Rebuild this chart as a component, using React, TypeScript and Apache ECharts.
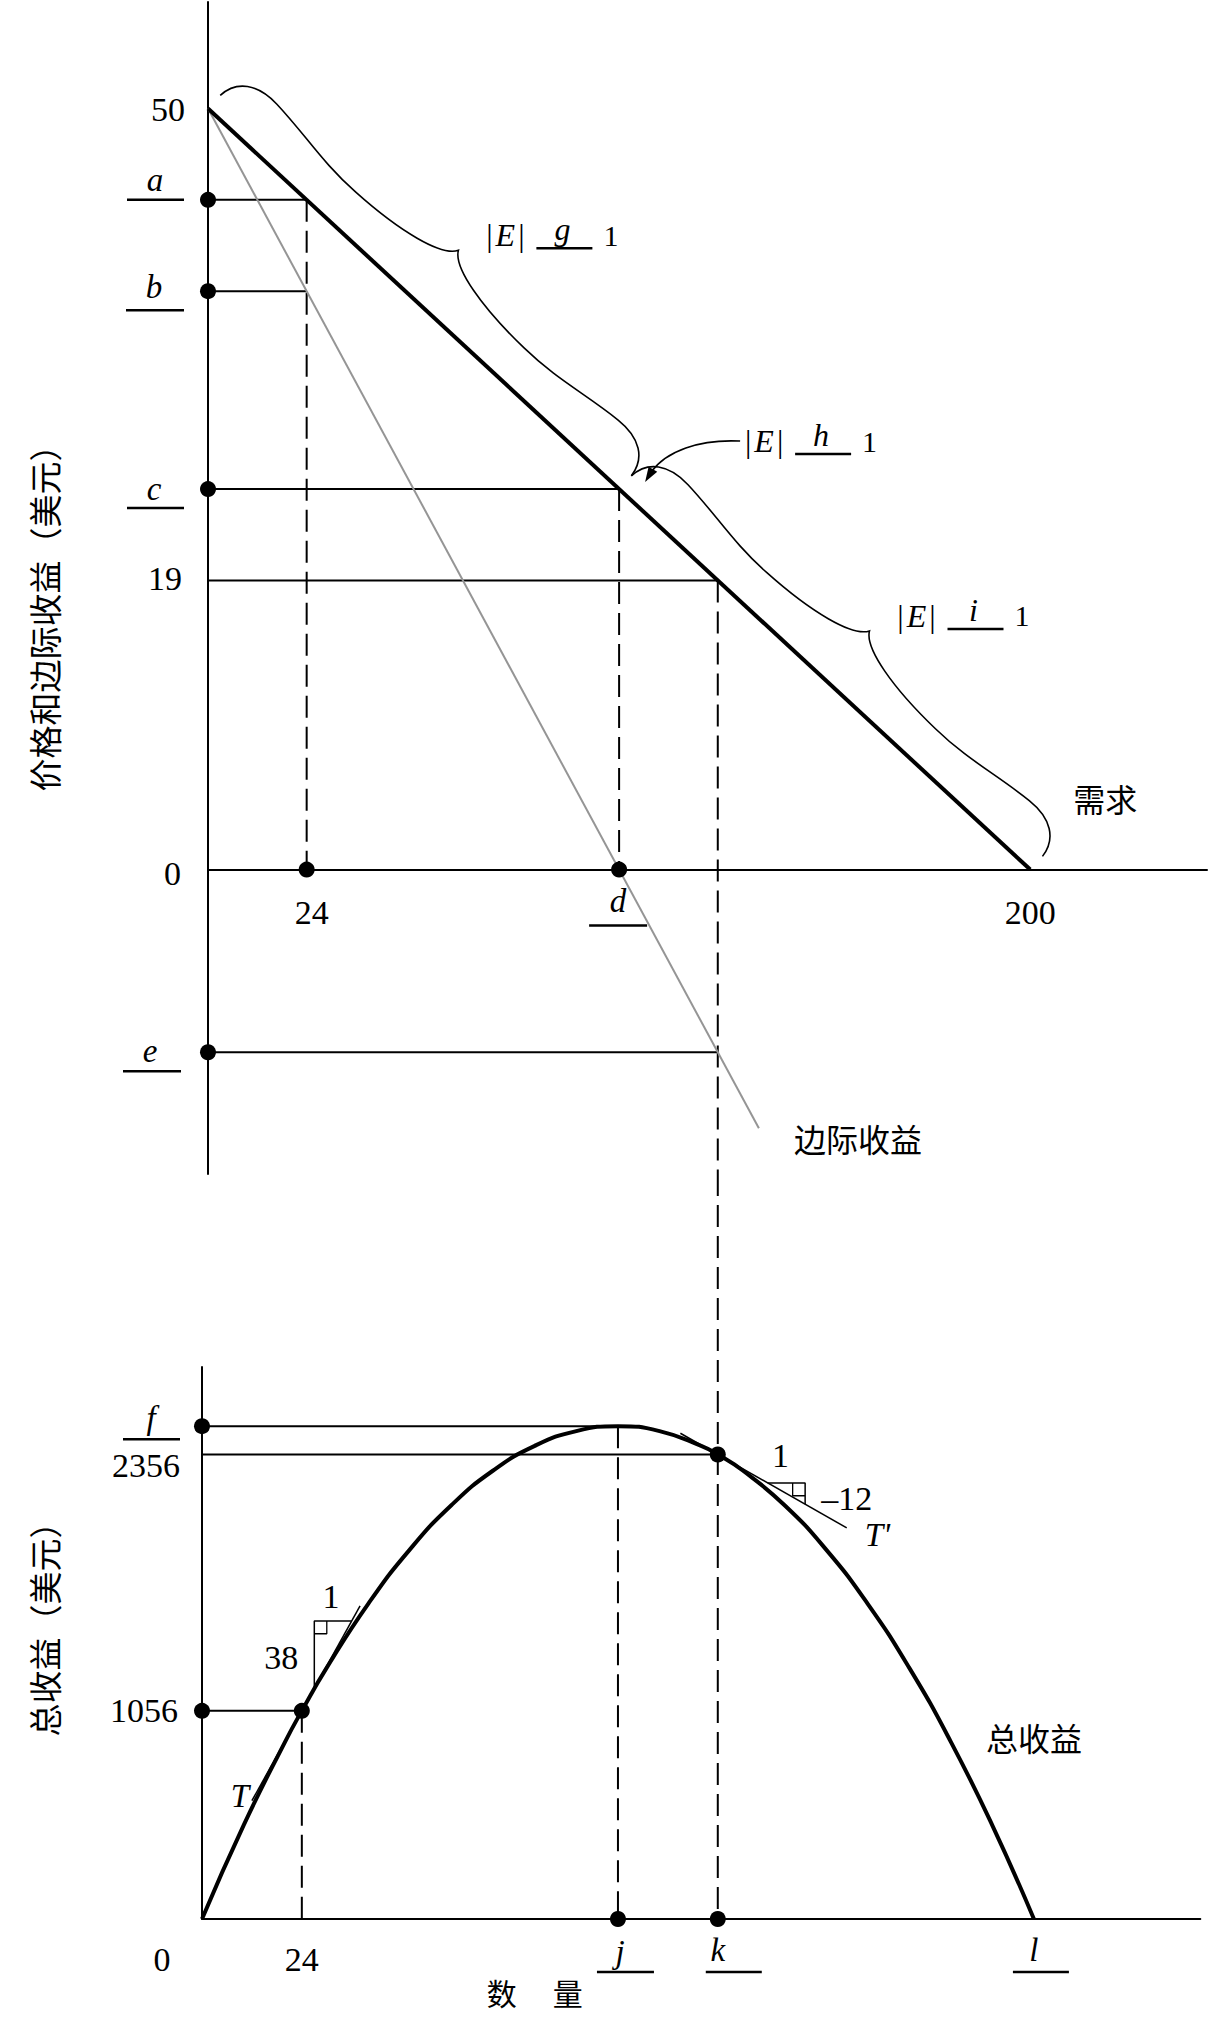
import React, { useEffect, useRef } from 'react';
import * as echarts from 'echarts';

// ================= DATA =================
// Top panel: price & marginal revenue (dollars) against quantity
const DEMAND: number[][] = [[0, 50], [200, 0]];
const MARGINAL_REVENUE: number[][] = [[0, 50], [134, -17]];
// horizontal guides: [fromQ, price, toQ]
const PRICE_GUIDES: number[][] = [[0, 44, 24], [0, 38, 24], [0, 25, 100], [0, 19, 124], [0, -12, 124]];
// dashed drops: [q, fromPrice, toPrice]
const PRICE_DROPS: number[][] = [[24, 44, 0], [100, 25, 0], [124, 19, -20]];
const PRICE_DOTS: number[][] = [[0, 44], [0, 38], [0, 25], [0, -12], [24, 0], [100, 0]];
// braces along the demand curve: [q1, p1, q2, p2]
const BRACES: number[][] = [[0, 50, 100, 25], [100, 25, 200, 0]];
const BRACE_BLANKS = ['g', 'i'];
const ARROW_AT: number[][] = [[100, 25]];
const ARROW_BLANK = ['h'];
const TOP_LABEL_TEXT = ['50', 'a', 'b', 'c', '19', '0', 'e', '24', 'd', '200', '需求', '边际收益'];
const TOP_LABEL_AT: number[][] = [[0, 50], [0, 44], [0, 38], [0, 25], [0, 19], [0, 0], [0, -12], [24, 0], [100, 0], [200, 0], [200, 0], [134, -17]];

// Bottom panel: total revenue (dollars) against quantity
const TOTAL_REVENUE: number[][] = [
  [0, 0], [10, 475], [20, 900], [24, 1056], [30, 1275], [40, 1600], [50, 1875], [60, 2100], [70, 2275],
  [80, 2400], [90, 2475], [100, 2500], [110, 2475], [120, 2400], [124, 2356], [130, 2275], [140, 2100],
  [150, 1875], [160, 1600], [170, 1275], [180, 900], [190, 475], [200, 0],
];
const TR_GUIDES: number[][] = [[0, 2500, 100], [0, 2356, 124], [0, 1056, 24]];
const TR_DROPS: number[][] = [[24, 1056, 0], [100, 2500, 0]];
const LINK_Q = 124; // dashed line joining both panels
const TR_DOTS: number[][] = [[0, 2500], [0, 1056], [24, 1056], [124, 2356], [100, 0], [124, 0]];
const TANGENT_T: number[][] = [[12, 600], [38, 1588]];
const TANGENT_T2: number[][] = [[115, 2464], [155, 1984]];
const SLOPE_T: number[][] = [[27, 1170], [27, 1512], [36, 1512]];
const SLOPE_T2: number[][] = [[136, 2212], [145, 2212], [145, 2104]];
const BOT_LABEL_TEXT = ['f', '2356', '1056', '0', '24', 'j', 'k', 'l', '数\u3000\u2009量', '总收益', '38', '1', 'T', '1', '–12', "T'"];
const BOT_LABEL_AT: number[][] = [[0, 2500], [0, 2356], [0, 1056], [0, 0], [24, 0], [100, 0], [124, 0], [200, 0], [80, 0], [175, 1094], [27, 1341], [31.5, 1512], [12, 600], [140.5, 2212], [145, 2158], [155, 1984]];

// ================= LAYOUT / STYLE =================
const SERIF = '"Liberation Serif", "Times New Roman", serif';
const CJK = '"Noto Sans CJK SC", sans-serif';
const BLACK = '#000';

const TOP_GRID = { left: 208, top: 2, width: 999, height: 1172 };
const TOP_X = { min: 0, max: 243 };
const TOP_Y = { min: -20, max: 57 };
const BOT_GRID = { left: 202, top: 1367, width: 998.3, height: 552 };
const BOT_X = { min: 0, max: 240 };
const BOT_Y = { min: 0, max: 2800 };

const SQ_Q = 3;
const SQ_TR = 65;

type Lay = { k: string; dx: number; dy: number; align?: string; u1?: number; u2?: number; uy?: number; size?: number };
const TOP_LABEL_LAYOUT: Lay[] = [
  { k: 'num', align: 'right', dx: -23, dy: 1 },
  { k: 'ul', dx: -53, dy: -20, u1: -81, u2: -24, uy: 0 },
  { k: 'ul', dx: -54, dy: -4, u1: -82, u2: -24, uy: 19 },
  { k: 'ul', dx: -54, dy: 0, u1: -81, u2: -24, uy: 19 },
  { k: 'num', align: 'right', dx: -26, dy: -2 },
  { k: 'num', align: 'right', dx: -27, dy: 4 },
  { k: 'ul', dx: -58, dy: -1, u1: -85, u2: -27, uy: 19 },
  { k: 'num', align: 'center', dx: 5, dy: 43 },
  { k: 'ul', dx: -1, dy: 31, u1: -30, u2: 28, uy: 56 },
  { k: 'num', align: 'center', dx: 0, dy: 43 },
  { k: 'cjk', dx: 75, dy: -72 },
  { k: 'cjk', dx: 99, dy: 10 },
];
const BOT_LABEL_LAYOUT: Lay[] = [
  { k: 'ul', dx: -51, dy: -8, u1: -79, u2: -22, uy: 13 },
  { k: 'num', align: 'right', dx: -22, dy: 11 },
  { k: 'num', align: 'right', dx: -24, dy: 0 },
  { k: 'num', align: 'center', dx: -40, dy: 40 },
  { k: 'num', align: 'center', dx: 0, dy: 40 },
  { k: 'ul', dx: 2, dy: 33, u1: -21, u2: 36, uy: 53 },
  { k: 'ul', dx: 0, dy: 31, u1: -12, u2: 44, uy: 53 },
  { k: 'ul', dx: 0, dy: 31, u1: -21, u2: 35, uy: 53 },
  { k: 'cjk', dx: 0, dy: 73, size: 30 },
  { k: 'cjk', dx: 104, dy: 34 },
  { k: 'num', align: 'center', dx: -33, dy: 3 },
  { k: 'num', align: 'center', dx: -2, dy: -24 },
  { k: 'ital', align: 'center', dx: -12, dy: -5 },
  { k: 'num', align: 'center', dx: -6, dy: -27 },
  { k: 'num', align: 'left', dx: 16, dy: 5 },
  { k: 'ital', align: 'left', dx: 18, dy: 7 },
];

// normalized half brace: [t along (cusp at 1), v outward px]
const BRACE_START = [0, 18];
const BRACE_HALF: number[][] = [[0.007, 40], [0.07, 52], [0.17, 50], [0.32, 47], [0.43, 38], [0.59, 39], [0.8, 40], [0.97, 50], [1, 66]];

// ================= HELPERS =================
const txt = (text: string, x: number, y: number, o: { size?: number; italic?: boolean; family?: string; align?: string } = {}) => ({
  type: 'text',
  x,
  y,
  silent: true,
  style: {
    text,
    fill: BLACK,
    fontSize: o.size ?? 34,
    fontFamily: o.family ?? SERIF,
    fontStyle: o.italic ? 'italic' : 'normal',
    align: o.align ?? 'center',
    verticalAlign: 'middle',
  },
});
const seg = (x1: number, y1: number, x2: number, y2: number, w = 2.5) => ({
  type: 'line',
  silent: true,
  shape: { x1, y1, x2, y2 },
  style: { stroke: BLACK, lineWidth: w },
});

function labelEl(text: string, lay: Lay, x: number, y: number) {
  if (lay.k === 'num') return txt(text, x + lay.dx, y + lay.dy, { align: lay.align });
  if (lay.k === 'ital') return txt(text, x + lay.dx, y + lay.dy, { align: lay.align, italic: true, size: 33 });
  if (lay.k === 'cjk') return txt(text, x + lay.dx, y + lay.dy, { family: CJK, size: lay.size ?? 32 });
  return {
    type: 'group',
    children: [
      txt(text, x + lay.dx, y + lay.dy, { italic: true, size: 33 }),
      seg(x + (lay.u1 as number), y + (lay.uy as number), x + (lay.u2 as number), y + (lay.uy as number), 2.5),
    ],
  };
}

function eLabel(letter: string, X0: number, Y0: number) {
  return [
    txt('|', X0 + 3, Y0, { size: 32 }),
    txt('E', X0 + 19, Y0, { size: 32, italic: true }),
    txt('|', X0 + 35, Y0, { size: 32 }),
    txt(letter, X0 + 76, Y0 - 6, { size: 32, italic: true }),
    seg(X0 + 50, Y0 + 13, X0 + 106, Y0 + 13, 2.5),
    txt('1', X0 + 117, Y0, { size: 30, align: 'left' }),
  ];
}

function bracePath(a: number[], b: number[]) {
  const dx = b[0] - a[0];
  const dy = b[1] - a[1];
  const L = Math.hypot(dx, dy);
  const ux = dx / L;
  const uy = dy / L;
  const nx = uy;
  const ny = -ux;
  const h = L / 2;
  const P = (t: number, v: number) => [a[0] + ux * t * h + nx * v, a[1] + uy * t * h + ny * v];
  const S = (t: number, v: number) => {
    const p = P(t, v);
    return `${p[0].toFixed(2)} ${p[1].toFixed(2)}`;
  };
  const pts = [BRACE_START, ...BRACE_HALF];
  let d = `M${S(BRACE_START[0], BRACE_START[1])}`;
  for (let i = 0; i < 3; i++) {
    const c1 = pts[1 + 3 * i];
    const c2 = pts[2 + 3 * i];
    const e = pts[3 + 3 * i];
    d += ` C${S(c1[0], c1[1])} ${S(c2[0], c2[1])} ${S(e[0], e[1])}`;
  }
  const rev = pts.slice().reverse();
  for (let i = 0; i < 3; i++) {
    const c1 = rev[1 + 3 * i];
    const c2 = rev[2 + 3 * i];
    const e = rev[3 + 3 * i];
    d += ` C${S(2 - c1[0], c1[1])} ${S(2 - c2[0], c2[1])} ${S(2 - e[0], e[1])}`;
  }
  return { d, cusp: P(1, 66) };
}

const lineS = (grid: number, data: any[], style: any, extra: any = {}) => ({
  type: 'line',
  xAxisIndex: grid,
  yAxisIndex: grid,
  data,
  symbol: 'none',
  showSymbol: false,
  silent: true,
  lineStyle: style,
  ...extra,
});
const SOLID = { color: BLACK, width: 2 };
const DASHED = { color: BLACK, width: 2, type: [22, 9] };
const THIN = { color: BLACK, width: 1.5 };

const labelSeries = (grid: number, texts: string[], at: number[][], layout: Lay[]) => ({
  type: 'custom',
  xAxisIndex: grid,
  yAxisIndex: grid,
  silent: true,
  clip: false,
  data: at.map((p) => [p[0], p[1]]),
  renderItem: (params: any, api: any) => {
    const i = params.dataIndex;
    const c = api.coord([api.value(0), api.value(1)]);
    return labelEl(texts[i], layout[i], c[0], c[1]);
  },
});

const axisCommon = {
  type: 'value',
  axisTick: { show: false },
  axisLabel: { show: false },
  splitLine: { show: false },
};

function buildOption() {
  const botPxPerUnit = BOT_GRID.height / (BOT_Y.max - BOT_Y.min);
  // TR value whose pixel meets the bottom edge of the top panel (dashed link between panels)
  const linkTR = (BOT_GRID.top + BOT_GRID.height - (TOP_GRID.top + TOP_GRID.height)) / botPxPerUnit;

  const sq1c = SLOPE_T[1];
  const sq1 = [[sq1c[0], sq1c[1] - SQ_TR], [sq1c[0] + SQ_Q, sq1c[1] - SQ_TR], [sq1c[0] + SQ_Q, sq1c[1]]];
  const sq2c = SLOPE_T2[1];
  const sq2 = [[sq2c[0] - SQ_Q, sq2c[1]], [sq2c[0] - SQ_Q, sq2c[1] - SQ_TR], [sq2c[0], sq2c[1] - SQ_TR]];

  const series: any[] = [];
  // ---- top panel ----
  PRICE_GUIDES.forEach((g) => series.push(lineS(0, [[g[0], g[1]], [g[2], g[1]]], SOLID)));
  PRICE_DROPS.forEach((g) => series.push(lineS(0, [[g[0], g[1]], [g[0], g[2]]], DASHED)));
  series.push(lineS(0, MARGINAL_REVENUE, { color: '#959595', width: 2 }));
  series.push(lineS(0, DEMAND, { color: BLACK, width: 4 }));
  series.push({
    type: 'scatter', xAxisIndex: 0, yAxisIndex: 0, data: PRICE_DOTS, symbolSize: 16, clip: false, silent: true,
    itemStyle: { color: BLACK, opacity: 1 }, z: 5,
  });
  series.push({
    type: 'custom', xAxisIndex: 0, yAxisIndex: 0, silent: true, clip: false,
    encode: { x: [0, 2], y: [1, 3] },
    data: BRACES,
    renderItem: (params: any, api: any) => {
      const a = api.coord([api.value(0), api.value(1)]);
      const b = api.coord([api.value(2), api.value(3)]);
      const { d, cusp } = bracePath(a, b);
      return {
        type: 'group',
        children: [
          { type: 'path', silent: true, shape: { pathData: d }, style: { fill: 'none', stroke: BLACK, lineWidth: 1.6 } },
          ...eLabel(BRACE_BLANKS[params.dataIndex], cusp[0] + 28, cusp[1] - 15),
        ],
      };
    },
  });
  series.push({
    type: 'custom', xAxisIndex: 0, yAxisIndex: 0, silent: true, clip: false,
    data: ARROW_AT,
    renderItem: (params: any, api: any) => {
      const c = api.coord([api.value(0), api.value(1)]);
      const x = c[0];
      const y = c[1];
      const d = `M${x + 121} ${y - 48} C${x + 80} ${y - 50} ${x + 47} ${y - 38} ${x + 32} ${y - 17}`;
      return {
        type: 'group',
        children: [
          { type: 'path', silent: true, shape: { pathData: d }, style: { fill: 'none', stroke: BLACK, lineWidth: 1.6 } },
          { type: 'polygon', silent: true, shape: { points: [[x + 26, y - 7], [x + 38.1, y - 17.2], [x + 29.5, y - 22.4]] }, style: { fill: BLACK } },
          ...eLabel(ARROW_BLANK[params.dataIndex], x + 126, y - 48),
        ],
      };
    },
  });
  series.push(labelSeries(0, TOP_LABEL_TEXT, TOP_LABEL_AT, TOP_LABEL_LAYOUT));

  // ---- bottom panel ----
  TR_GUIDES.forEach((g) => series.push(lineS(1, [[g[0], g[1]], [g[2], g[1]]], SOLID)));
  TR_DROPS.forEach((g) => series.push(lineS(1, [[g[0], g[1]], [g[0], g[2]]], DASHED)));
  series.push(lineS(1, [[LINK_Q, linkTR], [LINK_Q, 0]], DASHED, { clip: false }));
  series.push(lineS(1, TANGENT_T, THIN));
  series.push(lineS(1, TANGENT_T2, THIN));
  series.push(lineS(1, SLOPE_T, THIN));
  series.push(lineS(1, SLOPE_T2, THIN));
  series.push(lineS(1, sq1, { color: BLACK, width: 1.3 }));
  series.push(lineS(1, sq2, { color: BLACK, width: 1.3 }));
  series.push(lineS(1, TOTAL_REVENUE, { color: BLACK, width: 4 }, { smooth: true }));
  series.push({
    type: 'scatter', xAxisIndex: 1, yAxisIndex: 1, data: TR_DOTS, symbolSize: 16, clip: false, silent: true,
    itemStyle: { color: BLACK, opacity: 1 }, z: 5,
  });
  series.push(labelSeries(1, BOT_LABEL_TEXT, BOT_LABEL_AT, BOT_LABEL_LAYOUT));

  return {
    animation: false,
    backgroundColor: '#ffffff',
    grid: [
      { ...TOP_GRID, containLabel: false },
      { ...BOT_GRID, containLabel: false },
    ],
    xAxis: [
      { ...axisCommon, gridIndex: 0, min: TOP_X.min, max: TOP_X.max, axisLine: { show: true, onZero: true, lineStyle: { color: BLACK, width: 2 } } },
      { ...axisCommon, gridIndex: 1, min: BOT_X.min, max: BOT_X.max, axisLine: { show: true, onZero: true, lineStyle: { color: BLACK, width: 2 } } },
    ],
    yAxis: [
      { ...axisCommon, gridIndex: 0, min: TOP_Y.min, max: TOP_Y.max, axisLine: { show: true, onZero: false, lineStyle: { color: BLACK, width: 2 } } },
      { ...axisCommon, gridIndex: 1, min: BOT_Y.min, max: BOT_Y.max, axisLine: { show: true, onZero: false, lineStyle: { color: BLACK, width: 2 } } },
    ],
    graphic: [
      {
        type: 'text', x: 44, y: 610, rotation: Math.PI / 2, silent: true,
        style: { text: '价格和边际收益（美元）', fill: BLACK, fontSize: 33, fontFamily: CJK, align: 'center', verticalAlign: 'middle' },
      },
      {
        type: 'text', x: 44, y: 1621, rotation: Math.PI / 2, silent: true,
        style: { text: '总收益（美元）', fill: BLACK, fontSize: 33, fontFamily: CJK, align: 'center', verticalAlign: 'middle' },
      },
    ],
    series,
  };
}

export default function App() {
  const ref = useRef<HTMLDivElement>(null);
  useEffect(() => {
    const el = ref.current;
    if (!el) return;
    const chart = echarts.init(el, null, { renderer: 'svg' });
    chart.setOption(buildOption() as any);
    return () => chart.dispose();
  }, []);
  return <div ref={ref} style={{ position: 'absolute', left: 0, top: 0, width: 1209, height: 2019, background: '#fff' }} />;
}
